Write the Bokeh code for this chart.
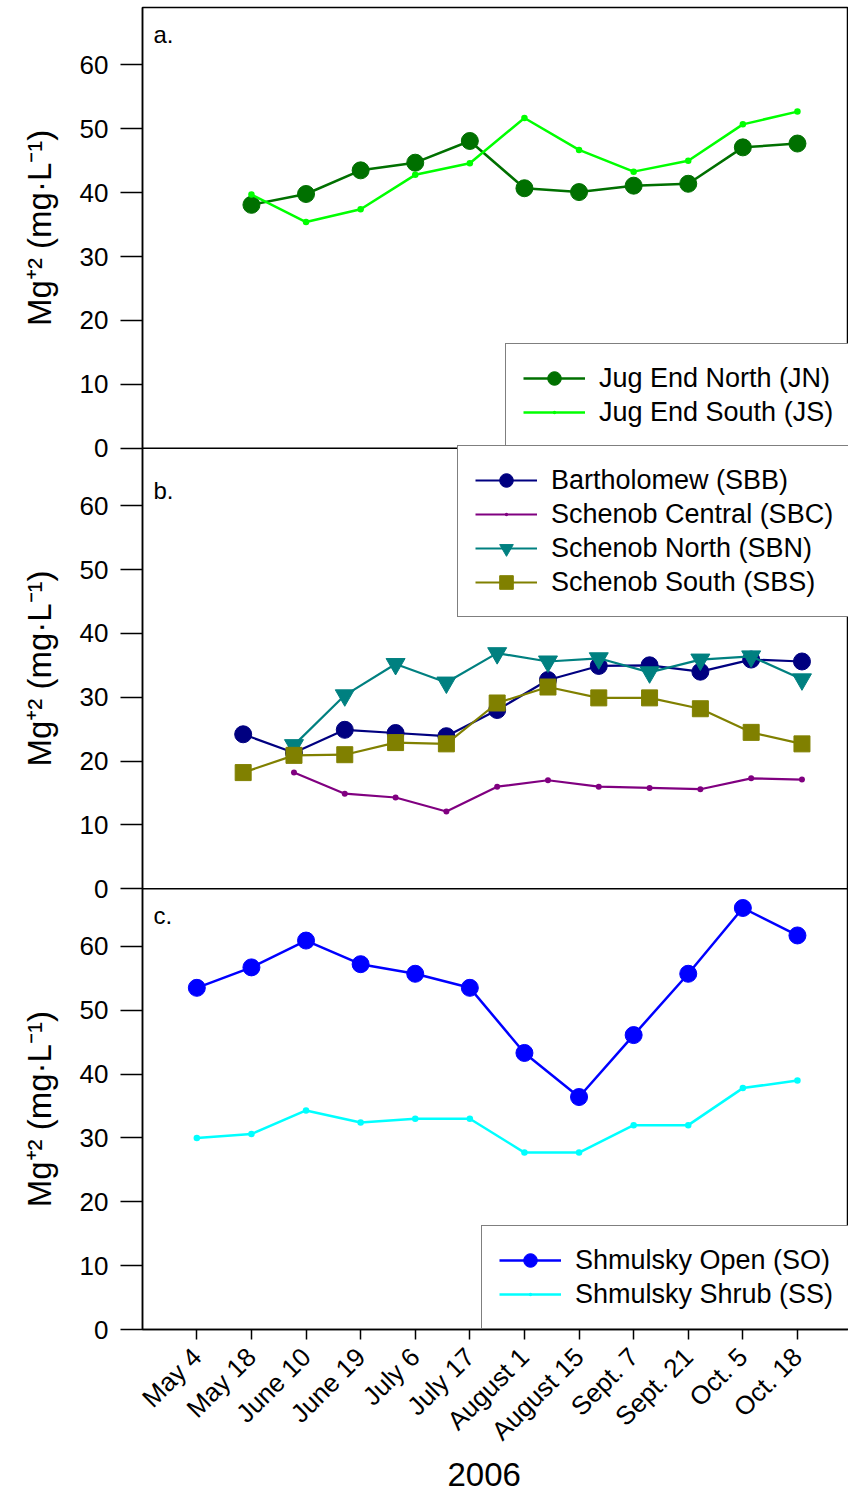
import math
from bokeh.plotting import figure
from bokeh.layouts import row
from bokeh.models import Range1d, FixedTicker, Span, Label, Legend, LegendItem, Title
from bokeh.core.properties import value
from bokeh.embed import file_html
from bokeh.resources import INLINE

# ---------------- data ----------------
dates = ["May 4", "May 18", "June 10", "June 19", "July 6", "July 17",
         "August 1", "August 15", "Sept. 7", "Sept. 21", "Oct. 5", "Oct. 18"]
idx = list(range(12))
y_ticks = [0, 10, 20, 30, 40, 50, 60]
y_title = "Mg\u207a\u00b2 (mg\u00b7L\u207b\u00b9)"
x_title = "2006"
panel_letters = ["a.", "b.", "c."]

# panel a: Jug End (first sample May 18)
jn = [38.1, 39.8, 43.5, 44.7, 48.1, 40.7, 40.1, 41.1, 41.4, 47.1, 47.7]
js = [39.7, 35.4, 37.4, 42.8, 44.6, 51.7, 46.7, 43.3, 45.0, 50.7, 52.7]

# panel b: Schenob / Bartholomew
sbb = [24.2, 21.3, 24.9, 24.4, 23.9, 28.0, 32.7, 34.9, 35.0, 34.0, 35.9, 35.6]
sbc = [18.2, 14.9, 14.3, 12.1, 16.0, 17.0, 16.0, 15.8, 15.6, 17.3, 17.1]
sbn = [22.5, 30.3, 35.2, 32.3, 36.9, 35.6, 36.1, 33.9, 35.9, 36.4, 32.8]
sbs = [18.2, 20.9, 21.0, 22.9, 22.7, 29.1, 31.6, 29.9, 29.9, 28.2, 24.5, 22.7]

# panel c: Shmulsky
so = [53.5, 56.7, 60.9, 57.2, 55.7, 53.5, 43.3, 36.4, 46.1, 55.7, 66.0, 61.7]
ss = [30.0, 30.6, 34.3, 32.4, 33.0, 33.0, 27.7, 27.7, 32.0, 32.0, 37.8, 39.0]

# ---------------- figure ----------------
FONT = "Liberation Sans"
PANEL = 69  # y extent of one panel in data units
FRAME_H = 1322
TOP = 7
LAB_W = 60

yr = Range1d(0, 3 * PANEL)

p = figure(frame_width=706, frame_height=FRAME_H,
           x_range=Range1d(-0.995, 11.935), y_range=yr,
           output_backend="svg", toolbar_location=None,
           min_border_left=142 - LAB_W, min_border_right=0, min_border_top=TOP,
           min_border_bottom=166)
p.extra_y_ranges = {
    "a": Range1d(-2 * PANEL, PANEL),
    "b": Range1d(-PANEL, 2 * PANEL),
    "c": Range1d(0, 3 * PANEL),
}
p.extra_x_ranges = {"b": Range1d(-1.982, 11.916)}

p.xgrid.visible = False
p.ygrid.visible = False
p.outline_line_color = "black"
p.outline_line_width = 1.5
p.background_fill_color = "white"
p.border_fill_color = "white"

# y axis with three stacked panels
yt = []
overrides = {}
for off in (0, PANEL, 2 * PANEL):
    for t in y_ticks:
        yt.append(t + off)
        overrides[t + off] = str(t)
yax = p.yaxis[0]
yax.ticker = FixedTicker(ticks=yt)
yax.major_label_overrides = overrides
yax.minor_tick_line_color = None
yax.major_tick_out = 22
yax.major_tick_in = 0
yax.major_tick_line_width = 1.5
yax.axis_line_width = 1.5
yax.major_label_standoff = 12
yax.major_label_text_font = FONT
yax.major_label_text_font_size = "26px"
yax.major_label_text_color = "black"

xax = p.xaxis[0]
xax.ticker = FixedTicker(ticks=idx)
xax.major_label_overrides = {i: d for i, d in zip(idx, dates)}
xax.major_label_orientation = math.pi / 4
xax.minor_tick_line_color = None
xax.major_tick_out = 10
xax.major_tick_in = 0
xax.major_tick_line_width = 1.5
xax.axis_line_width = 1.5
xax.major_label_standoff = 13
xax.major_label_text_font = FONT
xax.major_label_text_font_size = "26px"
xax.major_label_text_color = "black"

p.add_layout(Title(text=x_title, align="left", offset=305, standoff=2,
                   text_font=FONT, text_font_size="33px", text_font_style="normal",
                   text_color="black"), "below")

# panel separators
for loc in (PANEL, 2 * PANEL):
    p.add_layout(Span(location=loc, dimension="width", line_color="black", line_width=1.5))


def series(x, y, color, marker, size, lw, yrn, xrn=None):
    kw = dict(y_range_name=yrn)
    if xrn is not None:
        kw["x_range_name"] = xrn
    ln = p.line(x, y, line_color=color, line_width=lw, **kw)
    sc = p.scatter(x, y, marker=marker, size=size, fill_color=color, line_color=color, **kw)
    return [ln, sc]


r_jn = series(idx[1:], jn, "#007000", "circle", 17, 2.5, "a")
r_js = series(idx[1:], js, "#00FF00", "dot", 26, 2.5, "a")

r_sbb = series(idx, sbb, "#000080", "circle", 17, 2.2, "b", "b")
r_sbc = series(idx[1:], sbc, "#800080", "dot", 24, 2.2, "b", "b")
r_sbn = series(idx[1:], sbn, "#008080", "inverted_triangle", 19, 2.2, "b", "b")
r_sbs = series(idx, sbs, "#808000", "square", 16, 2.2, "b", "b")

r_so = series(idx, so, "#0000FF", "circle", 17, 2.5, "c")
r_ss = series(idx, ss, "#00FFFF", "dot", 26, 2.5, "c")


def make_legend(items, loc):
    lg = Legend(items=[LegendItem(label=l, renderers=r) for l, r in items],
                location=loc, orientation="vertical")
    lg.label_text_font = FONT
    lg.label_text_font_size = "27px"
    lg.label_text_color = "black"
    lg.glyph_width = 62
    lg.glyph_height = 34
    lg.label_height = 34
    lg.label_standoff = 14
    lg.padding = 17
    lg.spacing = 0
    lg.margin = 0
    lg.border_line_color = "black"
    lg.border_line_width = 1.5
    lg.background_fill_color = "white"
    lg.background_fill_alpha = 1.0
    p.add_layout(lg)


make_legend([("Jug End North (JN)", r_jn), ("Jug End South (JS)", r_js)], (363, 882))
make_legend([("Bartholomew (SBB)", r_sbb), ("Schenob Central (SBC)", r_sbc),
             ("Schenob North (SBN)", r_sbn), ("Schenob South (SBS)", r_sbs)], (315, 712))
make_legend([("Shmulsky Open (SO)", r_so), ("Shmulsky Shrub (SS)", r_ss)], (339, 0))

# panel letters (baseline a little below each panel's top edge)
for letter, top, drop in zip(panel_letters, (3 * PANEL, 2 * PANEL, PANEL), (4.2, 6.6, 4.2)):
    p.add_layout(Label(x=11, x_units="screen", y=top - drop, y_units="data",
                       text=letter, text_font=FONT, text_font_size="24px",
                       text_color="black", text_baseline="alphabetic"))

# y-axis titles in a narrow companion figure sharing the y range
lab = figure(frame_width=LAB_W, frame_height=FRAME_H, x_range=Range1d(0, LAB_W), y_range=yr,
             output_backend="svg", toolbar_location=None, x_axis_type=None, y_axis_type=None,
             min_border_left=0, min_border_right=0, min_border_top=TOP, min_border_bottom=0)
lab.xgrid.visible = False
lab.ygrid.visible = False
lab.outline_line_color = None
lab.text(x=[38.5] * 3, y=[PANEL * 0.5, PANEL * 1.5, PANEL * 2.5], text=[y_title] * 3,
         angle=math.pi / 2, text_font=value(FONT), text_font_size="33px",
         text_color="black", text_align="center", text_baseline="middle")

layout = row(lab, p, spacing=0)
open("out.html", "w").write(file_html(layout, INLINE))
